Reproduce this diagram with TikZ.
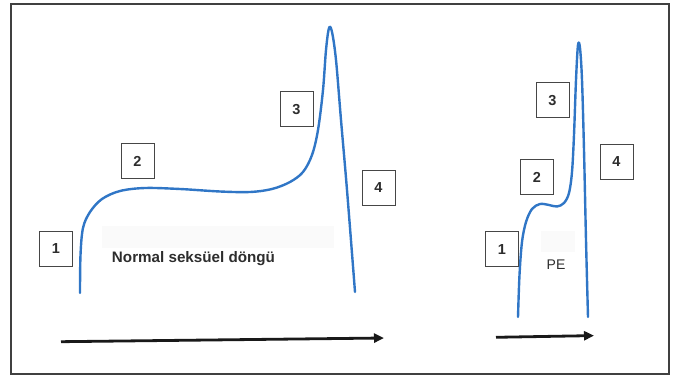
\documentclass[tikz,border=0pt]{standalone}
\usepackage{fontspec}
\setmainfont{Liberation Sans}
\usetikzlibrary{arrows.meta}
\definecolor{curveblue}{RGB}{48,118,198}
\definecolor{boxgray}{RGB}{70,70,70}
\definecolor{txtgray}{RGB}{45,45,45}
\begin{document}
\begin{tikzpicture}[x=1pt,y=-1pt,
  numbox/.style={draw=boxgray,line width=1pt,fill=white,minimum width=33pt,minimum height=35pt,inner sep=0pt,font=\bfseries\fontsize{14.5}{14.5}\selectfont,text=txtgray},
  curve/.style={draw=curveblue,line width=2.4pt,line cap=round,line join=round},
  timearrow/.style={draw=black!90,line width=2.8pt,-{Triangle[length=10pt,width=9pt]}},
  faint/.style={fill=black!2,draw=none}]
\useasboundingbox (0,0) rectangle (675,379);
\draw[draw=black!75,line width=1.1pt] (11,4) rectangle (669,374);
% faint backgrounds
\fill[black!2] (102,226) rectangle (334,248);
\fill[black!2] (541,231) rectangle (575,252);
% normal curve
\draw[curve] plot[smooth,tension=0.55] coordinates {(80,293) (80.5,255) (83,228) (90,212) (102,199) (120,191) (145,188) (180,189) (220,191.5) (250,192) (272,189) (290,182) (303,172) (312,155) (318,130) (323,90) (326,50) (329,28) (332,32) (336,60) (341,120) (347,190) (355,292)};
% PE curve
\draw[curve] plot[smooth,tension=0.55] coordinates {(518,317) (519.5,275) (522,242) (526,222) (532,209) (540,204) (549,205) (557,206.5) (564,203) (569,193) (572,172) (574,135) (576,80) (578,45) (580,48) (582,80) (584,150) (586,240) (588,317)};
% boxes
\node[numbox] (n1) at (56,249) {1};
\node[numbox] (n2) at (137.5,161) {2};
\node[numbox] (n3) at (296.5,109.5) {3};
\node[numbox] (n4) at (378.5,188) {4};
\node[numbox] (p1) at (502,249.5) {1};
\node[numbox] (p2) at (537,177.5) {2};
\node[numbox] (p3) at (552.5,100.5) {3};
\node[numbox] (p4) at (616.5,162) {4};
% labels
\node[font=\bfseries\fontsize{15.2}{15.2}\selectfont,text=txtgray] (lab) at (193.5,259) {Normal seksüel döngü};
\node[font=\fontsize{14}{14}\selectfont,text=txtgray] (pe) at (556,265) {PE};
% arrows
\coordinate (a1s) at (61,341.7);
\coordinate (a1e) at (384,338);
\coordinate (a2s) at (496,337.3);
\coordinate (a2e) at (594,335.6);
\draw[timearrow] (a1s) -- (a1e);
\draw[timearrow] (a2s) -- (a2e);
\end{tikzpicture}
\end{document}
